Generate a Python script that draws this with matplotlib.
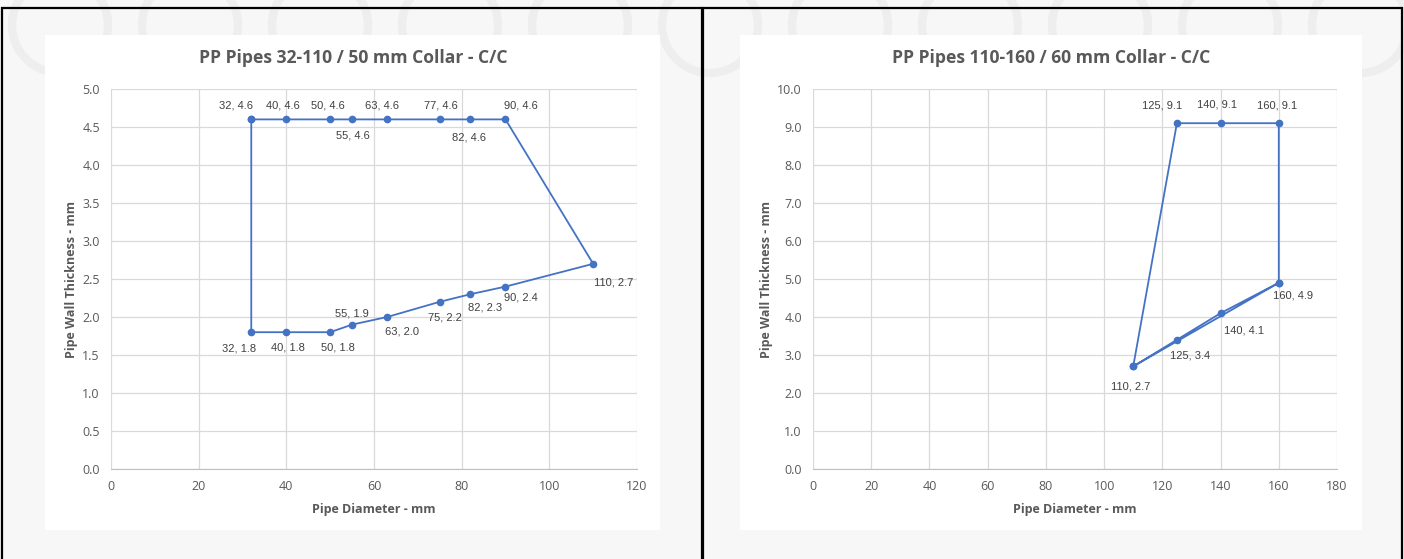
import matplotlib.pyplot as plt
from matplotlib.patches import Rectangle, Ellipse

# left chart: 32-110 pipes, 50 mm collar (closed outline)
dia_a = [32, 40, 50, 55, 63, 75, 82, 90, 110, 90, 82, 75, 63, 55, 50, 40, 32, 32]
wall_a = [4.6, 4.6, 4.6, 4.6, 4.6, 4.6, 4.6, 4.6, 2.7, 2.4, 2.3, 2.2, 2.0, 1.9, 1.8, 1.8, 1.8, 4.6]
lbl_a = ["32, 4.6", "40, 4.6", "50, 4.6", "55, 4.6", "63, 4.6", "77, 4.6", "82, 4.6", "90, 4.6",
         "110, 2.7", "90, 2.4", "82, 2.3", "75, 2.2", "63, 2.0", "55, 1.9", "50, 1.8", "40, 1.8", "32, 1.8"]

# right chart: 110-160 pipes, 60 mm collar
dia_b = [110, 125, 140, 160, 160, 140, 125, 110, 160]
wall_b = [2.7, 9.1, 9.1, 9.1, 4.9, 4.1, 3.4, 2.7, 4.9]
lbl_b = ["110, 2.7", "125, 9.1", "140, 9.1", "160, 9.1", "160, 4.9", "140, 4.1", "125, 3.4"]

# label offsets in pixels (dx, dy) - just placement
off_a = [(-15, 14), (-3, 14), (-2, 14), (1, -16), (-5, 14), (1, 14), (-1, -18), (15, 14),
         (20, -19), (15, -11), (15, -13), (5, -16), (15, -15), (0, 11), (8, -15), (2, -15), (-12, -16)]
off_b = [(-3, -20), (-15, 18), (-4, 19), (-2, 18), (14, -13), (23, -17), (13, -16)]

BLUE = "#4472C4"
TXT = "#595959"
W, H = 1404, 559

fig = plt.figure(figsize=(W / 100, H / 100), dpi=100)
fig.patch.set_facecolor("#f7f7f7")


def box(x0, y0, x1, y1, **kw):
    fig.patches.append(Rectangle((x0 / W, 1 - y1 / H), (x1 - x0) / W, (y1 - y0) / H,
                                 transform=fig.transFigure, **kw))


# faint watermark rings behind
for cx in range(60, 1404, 130):
    fig.patches.append(Ellipse((cx / W, 1 - 25 / H), 96 / W, 96 / H, transform=fig.transFigure,
                               fill=False, ec="#eeeeee", lw=6, zorder=0))

box(45, 35, 660, 530, fc="white", ec="none", zorder=1)
box(740, 35, 1362, 530, fc="white", ec="none", zorder=1)
box(2, 8, 702, 570, fill=False, ec="black", lw=1.6, zorder=3)
box(703, 8, 1402, 570, fill=False, ec="black", lw=1.6, zorder=3)


def setup(ax, xmax, ymax, ystep, title, cx):
    ax.set_facecolor("none")
    ax.set_xlim(0, xmax)
    ax.set_ylim(0, ymax)
    ax.set_xticks(range(0, xmax + 1, 20))
    yt = [i * ystep for i in range(int(round(ymax / ystep)) + 1)]
    ax.set_yticks(yt)
    ax.set_yticklabels(["%.1f" % v for v in yt])
    ax.grid(True, color="#d9d9d9", lw=0.9)
    ax.set_axisbelow(True)
    for s in ["top", "right", "left"]:
        ax.spines[s].set_visible(False)
    ax.spines["bottom"].set_color("#bfbfbf")
    ax.tick_params(length=0, labelsize=9, colors=TXT, pad=8)
    for t in ax.get_xticklabels() + ax.get_yticklabels():
        t.set_fontfamily("Open Sans")
    ax.set_xlabel("Pipe Diameter - mm", fontsize=9, color=TXT, fontweight="bold",
                  family="Open Sans", labelpad=7)
    ax.set_ylabel("Pipe Wall Thickness - mm", fontsize=9, color=TXT, fontweight="bold",
                  family="Open Sans", labelpad=3)
    fig.text(cx / W, 1 - 58 / H, title, fontsize=12.6, color=TXT, fontweight="bold",
             family="Open Sans", ha="center", va="center", zorder=4)


ax1 = fig.add_axes([111 / W, 1 - 469 / H, 526 / W, 380 / H], zorder=2)
setup(ax1, 120, 5.0, 0.5, "PP Pipes 32-110 / 50 mm Collar - C/C", 353)
ax1.plot(dia_a, wall_a, color=BLUE, lw=1.3, marker="o", ms=4.5, clip_on=False)
for x, y, s, (dx, dy) in zip(dia_a, wall_a, lbl_a, off_a):
    ax1.annotate(s, (x, y), xytext=(dx * 0.72, dy * 0.72), textcoords="offset points",
                 ha="center", va="center", fontsize=8, color="#404040", family="Liberation Sans")

ax2 = fig.add_axes([813 / W, 1 - 469 / H, 524 / W, 380 / H], zorder=2)
setup(ax2, 180, 10.0, 1.0, "PP Pipes 110-160 / 60 mm Collar - C/C", 1051)
ax2.plot(dia_b, wall_b, color=BLUE, lw=1.3, marker="o", ms=4.5, clip_on=False)
for x, y, s, (dx, dy) in zip(dia_b, wall_b, lbl_b, off_b):
    ax2.annotate(s, (x, y), xytext=(dx * 0.72, dy * 0.72), textcoords="offset points",
                 ha="center", va="center", fontsize=8, color="#404040", family="Liberation Sans")

fig.savefig("out.png", dpi=100, facecolor=fig.get_facecolor())
